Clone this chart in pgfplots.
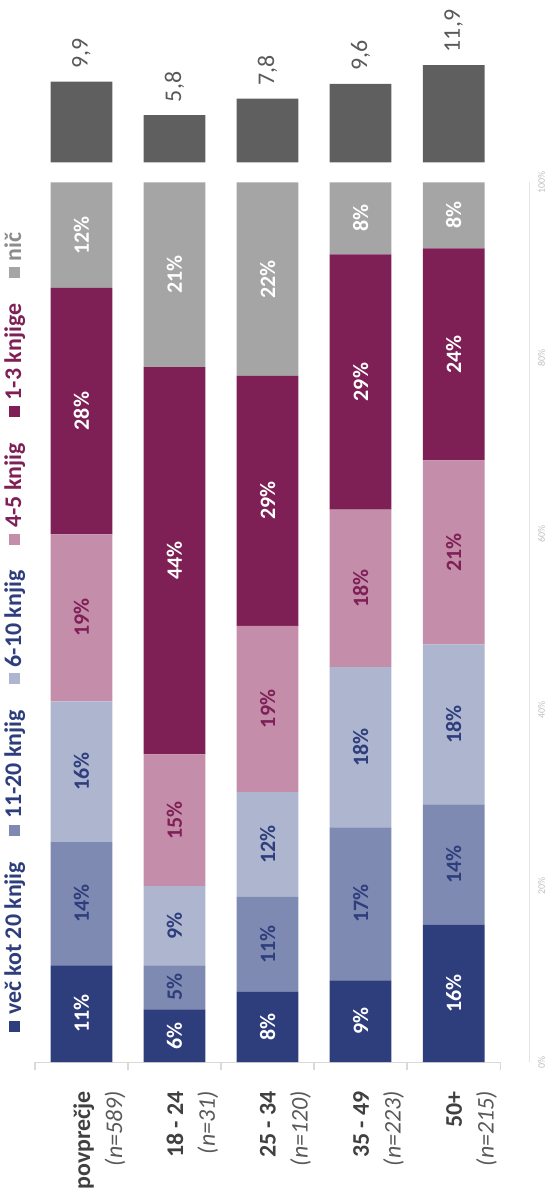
\documentclass[border=0pt]{standalone}
\usepackage{pgfplots}
\pgfplotsset{compat=1.18}
\usepackage{fontspec}
\setmainfont{Carlito}

\definecolor{cA}{HTML}{2E3D7C}
\definecolor{cB}{HTML}{7F8AB3}
\definecolor{cC}{HTML}{ADB5CF}
\definecolor{cD}{HTML}{C48DAA}
\definecolor{cE}{HTML}{7E1F56}
\definecolor{cF}{HTML}{A5A5A5}
\definecolor{avg}{HTML}{5F5F5F}
\definecolor{lbl}{HTML}{404040}
\definecolor{txtgray}{HTML}{595959}
\definecolor{nicgray}{HTML}{8C8C8C}

% legend entry: square colour, text colour, text
\newcommand{\lgd}[3]{\textcolor{#1}{\rule[0.8pt]{5.5pt}{5.5pt}}\hspace{3pt}\textcolor{#2}{#3}}

\begin{document}
\begin{tikzpicture}
% stacked bars
\begin{axis}[
    scale only axis,
    width=233.5pt, height=441.5pt,
    ybar stacked, bar width=31pt,
    xmin=-0.5, xmax=4.5, ymin=0, ymax=100,
    clip=false,
    axis x line*=bottom, axis y line*=right,
    xtick={0,1,2,3,4},
    xticklabels={
        {\textbf{\textcolor{lbl}{povprečje}}\\\textit{\textcolor{txtgray}{(n=589)}}},
        {\textbf{\textcolor{lbl}{18 - 24}}\\\textit{\textcolor{txtgray}{(n=31)}}},
        {\textbf{\textcolor{lbl}{25 - 34}}\\\textit{\textcolor{txtgray}{(n=120)}}},
        {\textbf{\textcolor{lbl}{35 - 49}}\\\textit{\textcolor{txtgray}{(n=223)}}},
        {\textbf{\textcolor{lbl}{50+}}\\\textit{\textcolor{txtgray}{(n=215)}}}},
    minor xtick={-0.5,0.5,1.5,2.5,3.5,4.5},
    major tick length=0pt, minor tick length=4pt, tick align=outside,
    tick style={draw=gray!30, line width=0.7pt},
    x axis line style={draw=gray!30, line width=0.7pt},
    y axis line style={draw=gray!20, xshift=14.5pt},
    ytick={0,20,40,60,80,100},
    yticklabel={\pgfmathprintnumber{\tick}\%},
    /pgf/number format/assume math mode=true,
    yticklabel style={font=\fontsize{5}{6}\selectfont, text=gray!50, xshift=15.5pt, rotate=90, anchor=north},
    xticklabel style={font=\fontsize{12}{16}\selectfont, align=right, xshift=9pt, yshift=-11pt, rotate=90, anchor=east},
    ylabel={\lgd{cA}{cA}{več kot 20 knjig}\hspace{13pt}%
            \lgd{cB}{cA}{11-20 knjig}\hspace{13pt}%
            \lgd{cC}{cA}{6-10 knjig}\hspace{13pt}%
            \lgd{cD}{cE}{4-5 knjig}\hspace{13pt}%
            \lgd{cE}{cE}{1-3 knjige}\hspace{13pt}%
            \lgd{cF}{nicgray}{nič}},
    every axis y label/.style={at={(axis description cs:-0.043,0.034)}, rotate=90, anchor=west,
        inner sep=0pt, font=\bfseries\fontsize{12}{14}\selectfont},
]
\addplot[fill=cA, draw=none] coordinates {(0,11) (1,6) (2,8) (3,9.3) (4,15.6)};
\addplot[fill=cB, draw=none] coordinates {(0,14) (1,5) (2,10.8) (3,17.4) (4,13.7)};
\addplot[fill=cC, draw=none] coordinates {(0,16) (1,9) (2,11.9) (3,18.2) (4,18.2)};
\addplot[fill=cD, draw=none] coordinates {(0,19) (1,15) (2,18.9) (3,17.9) (4,20.9)};
\addplot[fill=cE, draw=none] coordinates {(0,28) (1,44) (2,28.4) (3,29.0) (4,24.1)};
\addplot[fill=cF, draw=none] coordinates {(0,12) (1,21) (2,22.0) (3,8.2) (4,7.5)};
\end{axis}

% percentage labels at the middle of each segment
\begin{axis}[
    at={(0pt,0pt)}, anchor=south west,
    scale only axis,
    width=233.5pt, height=441.5pt,
    xmin=-0.5, xmax=4.5, ymin=0, ymax=100,
    hide axis, clip=false,
    point meta=explicit symbolic,
    nodes near coords={\pgfplotspointmeta\%},
    every node near coord/.append style={rotate=90, anchor=center, font=\bfseries\fontsize{11}{13}\selectfont},
]
\addplot[draw=none, mark=none, every node near coord/.append style={text=white}]
    coordinates {(0,5.5)[11] (1,3)[6] (2,4)[8] (3,4.65)[9] (4,7.8)[16]};
\addplot[draw=none, mark=none, every node near coord/.append style={text=cA}]
    coordinates {(0,18)[14] (1,8.5)[5] (2,13.4)[11] (3,18)[17] (4,22.45)[14]};
\addplot[draw=none, mark=none, every node near coord/.append style={text=cA}]
    coordinates {(0,33)[16] (1,15.5)[9] (2,24.75)[12] (3,35.8)[18] (4,38.4)[18]};
\addplot[draw=none, mark=none, every node near coord/.append style={text=cE}]
    coordinates {(0,50.5)[19] (1,27.5)[15] (2,40.15)[19] (3,53.85)[18] (4,57.95)[21]};
\addplot[draw=none, mark=none, every node near coord/.append style={text=white}]
    coordinates {(0,74)[28] (1,57)[44] (2,63.8)[29] (3,77.3)[29] (4,80.45)[24]};
\addplot[draw=none, mark=none, every node near coord/.append style={text=white}]
    coordinates {(0,94)[12] (1,89.5)[21] (2,89)[22] (3,95.9)[8] (4,96.25)[8]};
\end{axis}

% average number of books
\begin{axis}[
    at={(0pt,451.5pt)}, anchor=south west,
    scale only axis, width=233.5pt, height=49.2pt,
    xmin=-0.5, xmax=4.5, ymin=0, ymax=12,
    hide axis, clip=false,
    ybar, bar width=31pt,
    nodes near coords,
    /pgf/number format/use comma,
    /pgf/number format/fixed,
    /pgf/number format/fixed zerofill,
    /pgf/number format/precision=1,
    /pgf/number format/assume math mode=true,
    every node near coord/.append style={yshift=3pt, rotate=90, anchor=west, text=txtgray, font=\fontsize{12}{14}\selectfont},
]
\addplot[fill=avg, draw=none] coordinates {(0,9.9) (1,5.8) (2,7.8) (3,9.6) (4,11.9)};
\end{axis}
\path (-17.5pt,-65pt) rectangle (258pt,533pt);
\end{tikzpicture}
\end{document}
